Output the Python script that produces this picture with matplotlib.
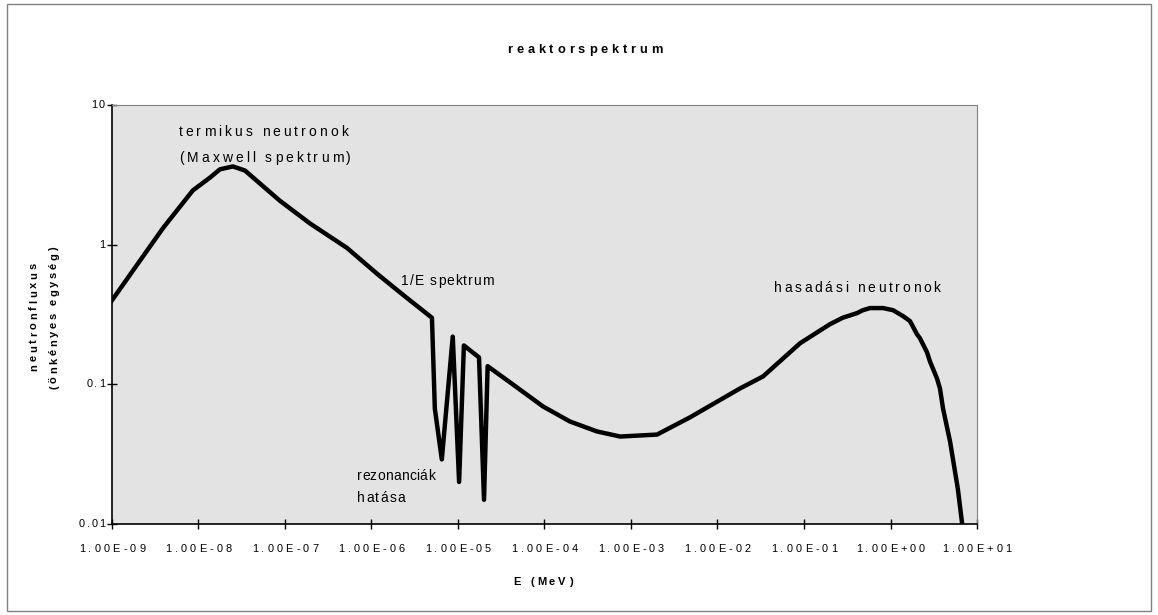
import matplotlib
matplotlib.use("Agg")
import matplotlib.pyplot as plt
from matplotlib.patches import Rectangle
from matplotlib.font_manager import FontProperties, findfont
from matplotlib.ft2font import FT2Font
from matplotlib.transforms import offset_copy, blended_transform_factory

# energia (MeV) es relativ neutronfluxus
energy = [1.0e-9, 3.9e-9, 8.6e-9, 1.36e-8, 1.77e-8, 2.5e-8, 3.45e-8, 4.7e-8, 8.7e-8, 1.95e-7,
          5.2e-7, 1.16e-6, 2.4e-6, 5.0e-6,
          5.4e-6, 6.5e-6, 8.7e-6, 1.03e-5, 1.17e-5, 1.75e-5, 2.0e-5, 2.2e-5,
          4.3e-5, 9.6e-5, 1.97e-4, 4.05e-4, 7.5e-4, 2.0e-3, 4.8e-3, 1.82e-2,
          3.36e-2, 9.0e-2, 0.2, 0.28, 0.41, 0.48, 0.58, 0.82, 1.07, 1.4, 1.68, 2.02,
          2.19, 2.64, 2.86, 3.45, 3.73, 4.05, 4.88, 6.0, 6.7]
flux = [0.40, 1.32, 2.45, 3.03, 3.47, 3.64, 3.4, 2.88, 2.07, 1.42,
        0.95, 0.62, 0.43, 0.30,
        0.067, 0.029, 0.22, 0.020, 0.19, 0.156, 0.0149, 0.135,
        0.100, 0.0695, 0.0542, 0.046, 0.0423, 0.0437, 0.058, 0.0935,
        0.114, 0.197, 0.27, 0.30, 0.324, 0.34, 0.352, 0.352, 0.34, 0.308, 0.284, 0.229,
        0.214, 0.170, 0.146, 0.110, 0.0935, 0.067, 0.039, 0.0179, 0.0103]

xticks = [1e-9, 1e-8, 1e-7, 1e-6, 1e-5, 1e-4, 1e-3, 1e-2, 1e-1, 1e0, 1e1]
xlabels = ["1.00E-09", "1.00E-08", "1.00E-07", "1.00E-06", "1.00E-05", "1.00E-04",
           "1.00E-03", "1.00E-02", "1.00E-01", "1.00E+00", "1.00E+01"]
yticks = [0.01, 0.1, 1, 10]
ylabels = ["0.01", "0.1", "1", "10"]

FAMILY = "Liberation Sans"
DPI = 100

fig = plt.figure(figsize=(11.58, 6.15), dpi=DPI)
ax = fig.add_axes([0.0967, 0.148, 0.747, 0.681])
ax.set_facecolor("#e3e3e3")


def spaced(x, y, s, transform, size, weight="normal", ha="center", va="center",
           rot=0, track=3.3):
    """Szoveg kiirasa betunkent, szeles betukozzel (track pixelben)."""
    prop = FontProperties(family=FAMILY, size=size, weight=weight)
    font = FT2Font(findfont(prop))
    font.set_size(size, DPI)
    adv = [font.load_char(ord(c)).linearHoriAdvance / 65536 for c in s]
    total = sum(adv) + track * (len(s) - 1)
    pos = {"left": 0.0, "center": -total / 2, "right": -total}[ha]
    for c, a in zip(s, adv):
        if c != " ":
            if rot == 0:
                tr = offset_copy(transform, fig=fig, x=pos, y=0, units="dots")
            else:
                tr = offset_copy(transform, fig=fig, x=0, y=pos, units="dots")
            fig.text(x, y, c, transform=tr, fontproperties=prop, ha="left", va=va,
                     rotation=rot, rotation_mode="anchor", color="black")
        pos += a + track


ax.plot(energy, flux, color="black", lw=3.2, solid_joinstyle="round")

ax.set_xscale("log")
ax.set_yscale("log")
ax.set_xlim(1e-9, 1e1)
ax.set_ylim(0.01, 10)
ax.set_xticks(xticks)
ax.set_yticks(yticks)
ax.set_xticklabels([])
ax.set_yticklabels([])
ax.minorticks_off()
ax.tick_params(direction="inout", length=7, width=1)

for side in ["top", "right"]:
    ax.spines[side].set_color("#808080")
for side in ["left", "bottom"]:
    ax.spines[side].set_color("black")
    ax.spines[side].set_linewidth(1.2)

# tengelyfeliratok
xt = blended_transform_factory(ax.transData, ax.transAxes)
xt = offset_copy(xt, fig=fig, x=0, y=-25, units="dots")
for v, lab in zip(xticks, xlabels):
    spaced(v, 0, lab, xt, 7.9, ha="center", va="center", track=3.1)

yt = blended_transform_factory(ax.transAxes, ax.transData)
yt = offset_copy(yt, fig=fig, x=-7, y=0, units="dots")
for v, lab in zip(yticks, ylabels):
    spaced(0, v, lab, yt, 7.9, ha="right", va="center", track=1.5)

spaced(585 / 1158, 1 - 50 / 615, "reaktorspektrum", fig.transFigure, 9.3,
       weight="bold", track=3.8)
spaced(543 / 1158, 1 - 582 / 615, "E (MeV)", fig.transFigure, 8, weight="bold",
       track=3.0)
spaced(34 / 1158, 1 - 317 / 615, "neutronfluxus", fig.transFigure, 8,
       weight="bold", rot=90, track=2.8)
spaced(54 / 1158, 1 - 318 / 615, "(önkényes egység)", fig.transFigure, 8,
       weight="bold", rot=90, track=2.6)

# feliratok a gorbe menten
spaced(5.6e-8, 6.4, "termikus neutronok", ax.transData, 10, ha="center", track=3.0)
spaced(5.9e-8, 4.16, "(Maxwell spektrum)", ax.transData, 10, ha="center", track=3.0)
spaced(2.2e-6, 0.55, "1/E spektrum", ax.transData, 10, ha="left", track=1.0)
spaced(6.8e-7, 0.0221, "rezonanciák", ax.transData, 10, ha="left", track=0.3)
spaced(6.8e-7, 0.0154, "hatása", ax.transData, 10, ha="left", track=1.3)
spaced(0.41, 0.49, "hasadási neutronok", ax.transData, 10, ha="center", track=2.7)

fig.patches.append(Rectangle((0.006, 0.006), 0.988, 0.987, transform=fig.transFigure,
                             fill=False, edgecolor="#808080", lw=1))

fig.savefig("out.png", dpi=DPI)
